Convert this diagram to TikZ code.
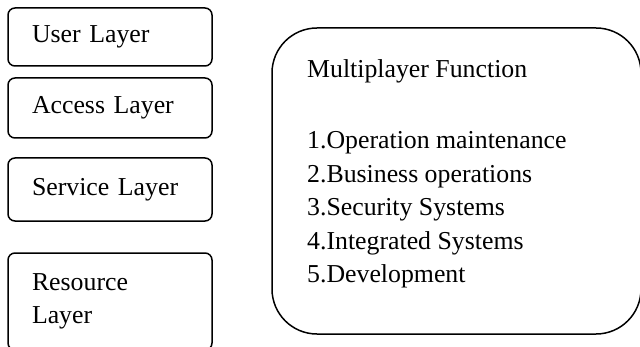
\documentclass[tikz,border=0pt]{standalone}
\usepackage{fontspec}
\setmainfont{Liberation Serif}
\usetikzlibrary{positioning}

\tikzset{
  layer/.style = {draw, line width = 1.5pt, rounded corners = 7pt,
    text width = 156pt, inner xsep = 24pt, align = left},
  funcbox/.style = {draw, line width = 1.5pt, rounded corners = 45pt,
    minimum width = 369pt, minimum height = 306pt},
}

\begin{document}
\begin{tikzpicture} [x = 1pt, y = 1pt, font = \fontsize{25.8pt}{33.5pt}\selectfont]
\useasboundingbox (0,0) rectangle (640,346);
% layers on the left
\node[layer, minimum height = 58pt] (user) at (110,309) {User Layer};
\node[layer, minimum height = 60pt] (access) at (110,238) {Access Layer};
\node[layer, minimum height = 63pt] (service) at (110,156.5) {Service Layer};
\node[layer, minimum height = 97pt] (resource) at (110,44.5) {Resource\\Layer};
% functions on the right
\node[funcbox] (func) at (456.5,165) {};
\node[anchor = north west, align = left, inner sep = 0pt] (funclist) at (307,286.6)
  {Multiplayer Function\\[37.5pt]
   1.Operation maintenance\\
   2.Business operations\\
   3.Security Systems\\
   4.Integrated Systems\\
   5.Development};
\end{tikzpicture}
\end{document}
